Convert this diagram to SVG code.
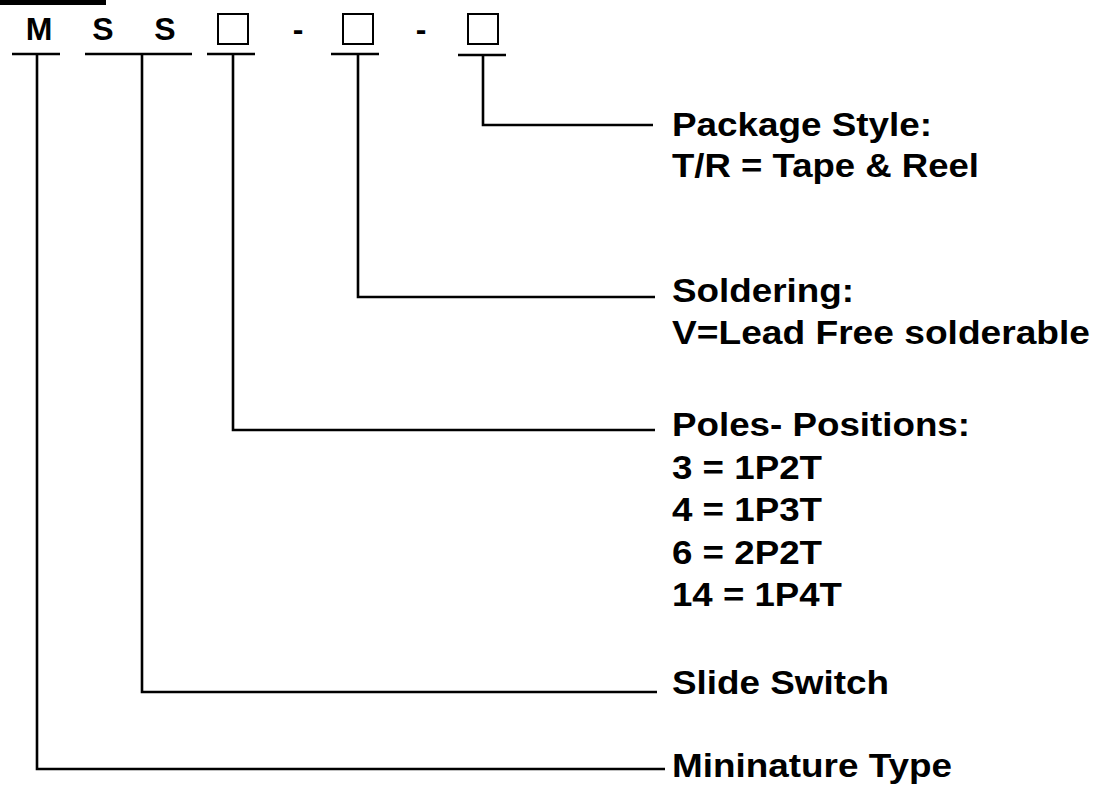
<svg xmlns="http://www.w3.org/2000/svg" width="1095" height="789" viewBox="0 0 1095 789">
<style>
.t{font-family:"Liberation Sans",Arial,sans-serif;font-weight:bold;font-size:33px;fill:#000}
.c{font-family:"Liberation Sans",Arial,sans-serif;font-weight:bold;font-size:32px;fill:#000;text-anchor:middle}
.ln{fill:none;stroke:#000;stroke-width:2.6}
.bx{fill:#fff;stroke:#000;stroke-width:2}
</style>
<rect x="0" y="0" width="1095" height="789" fill="#fff"/>
<rect x="0" y="0" width="106" height="5" fill="#000"/>
<g id="code">
<text class="c" x="39" y="40">M</text>
<text class="c" x="103" y="40">S</text>
<text class="c" x="165" y="40">S</text>
<rect class="bx" x="218" y="14" width="30" height="30"/>
<text class="c" x="298" y="40">-</text>
<rect class="bx" x="343" y="14" width="30" height="30"/>
<text class="c" x="421" y="40">-</text>
<rect class="bx" x="468" y="14" width="30" height="30"/>
</g>
<g id="connectors">
<path class="ln" d="M12 54H60M85 54H192M207 54H255M331 54H379M458 55H506"/>
<path class="ln" d="M483 55V125H653"/>
<path class="ln" d="M358 54V297H655"/>
<path class="ln" d="M233 54V430H655"/>
<path class="ln" d="M142 54V692H657"/>
<path class="ln" d="M37 54V769H665"/>
</g>
<g id="package">
<text class="t" x="672" y="136" textLength="260" lengthAdjust="spacingAndGlyphs">Package Style:</text>
<text class="t" x="672" y="177" textLength="307" lengthAdjust="spacingAndGlyphs">T/R = Tape &amp; Reel</text>
</g>
<g id="soldering">
<text class="t" x="672" y="302" textLength="182" lengthAdjust="spacingAndGlyphs">Soldering:</text>
<text class="t" x="672" y="344" textLength="418" lengthAdjust="spacingAndGlyphs">V=Lead Free solderable</text>
</g>
<g id="poles">
<text class="t" x="672" y="436" textLength="298" lengthAdjust="spacingAndGlyphs">Poles- Positions:</text>
<text class="t" x="672" y="479" textLength="150" lengthAdjust="spacingAndGlyphs">3 = 1P2T</text>
<text class="t" x="672" y="521" textLength="150" lengthAdjust="spacingAndGlyphs">4 = 1P3T</text>
<text class="t" x="672" y="564" textLength="150" lengthAdjust="spacingAndGlyphs">6 = 2P2T</text>
<text class="t" x="672" y="606" textLength="170" lengthAdjust="spacingAndGlyphs">14 = 1P4T</text>
</g>
<g id="slide">
<text class="t" x="672" y="694" textLength="217" lengthAdjust="spacingAndGlyphs">Slide Switch</text>
</g>
<g id="mininature">
<text class="t" x="672" y="777" textLength="280" lengthAdjust="spacingAndGlyphs">Mininature Type</text>
</g>
</svg>
